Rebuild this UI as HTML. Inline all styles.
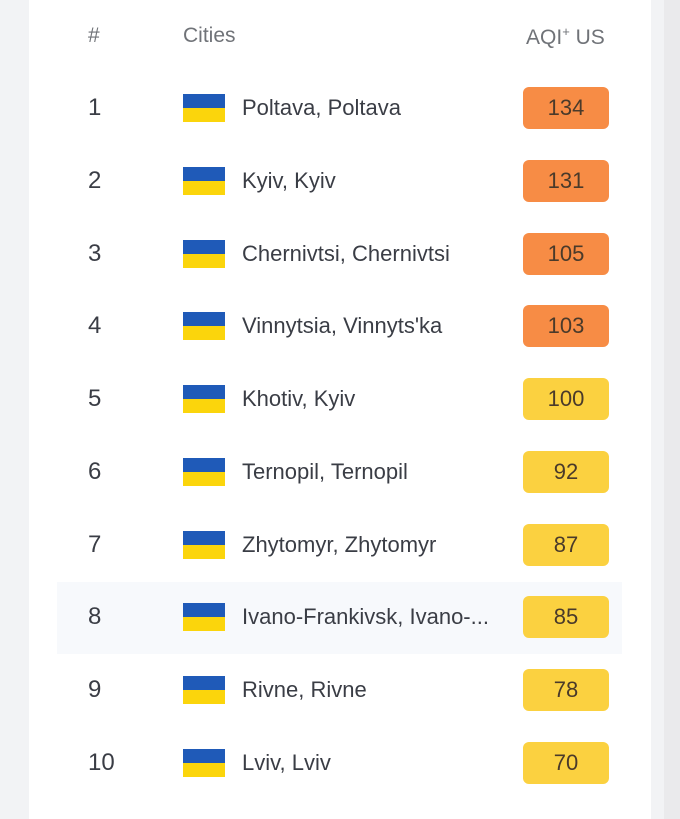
<!DOCTYPE html>
<html><head><meta charset="utf-8"><style>
body{margin:0;width:680px;height:819px;background:#f2f3f5;font-family:"Liberation Sans",sans-serif;overflow:hidden;position:relative}
.card{position:absolute;left:29px;top:0;width:622px;height:819px;background:#fff}
.strip{position:absolute;left:664px;top:0;width:16px;height:819px;background:#eaeaec}
.h{position:absolute;top:24px;font-size:21px;color:#707378}
.row{position:absolute;left:0;width:680px;height:72px}
.hl{position:absolute;left:57px;width:565px;height:72px;background:#f7f9fc}
.n{position:absolute;left:88px;font-size:24px;color:#3a3d45;top:50%;transform:translateY(-50%)}
.f{position:absolute;left:183px;width:42px;height:28px;top:50%;margin-top:-14px}
.f:before{content:"";position:absolute;left:0;top:0;width:42px;height:14px;background:#1f5ab8}
.f:after{content:"";position:absolute;left:0;top:14px;width:42px;height:14px;background:#fbd50c}
.c{position:absolute;left:242px;font-size:22px;color:#3a3d45;top:50%;transform:translateY(-50%);white-space:nowrap}
.b{position:absolute;left:523px;width:86px;height:42px;top:50%;margin-top:-21px;border-radius:6px;text-align:center;line-height:42px;font-size:22px;color:#4a3a2a}
.o{background:#f78c45}.y{background:#fbd140}
</style></head><body>
<div class="card"></div><div class="strip"></div>
<div class="h" style="left:88px">#</div>
<div class="h" style="left:183px">Cities</div>
<div class="h" style="left:526px">AQI<sup style="font-size:13px">+</sup> US</div>
<div class="hl" style="top:582px"></div>
<div class="row" style="top:72px"><span class="n">1</span><span class="f"></span><span class="c">Poltava, Poltava</span><span class="b o">134</span></div>
<div class="row" style="top:145px"><span class="n">2</span><span class="f"></span><span class="c">Kyiv, Kyiv</span><span class="b o">131</span></div>
<div class="row" style="top:218px"><span class="n">3</span><span class="f"></span><span class="c">Chernivtsi, Chernivtsi</span><span class="b o">105</span></div>
<div class="row" style="top:290px"><span class="n">4</span><span class="f"></span><span class="c">Vinnytsia, Vinnyts'ka</span><span class="b o">103</span></div>
<div class="row" style="top:363px"><span class="n">5</span><span class="f"></span><span class="c">Khotiv, Kyiv</span><span class="b y">100</span></div>
<div class="row" style="top:436px"><span class="n">6</span><span class="f"></span><span class="c">Ternopil, Ternopil</span><span class="b y">92</span></div>
<div class="row" style="top:509px"><span class="n">7</span><span class="f"></span><span class="c">Zhytomyr, Zhytomyr</span><span class="b y">87</span></div>
<div class="row" style="top:581px"><span class="n">8</span><span class="f"></span><span class="c">Ivano-Frankivsk, Ivano-...</span><span class="b y">85</span></div>
<div class="row" style="top:654px"><span class="n">9</span><span class="f"></span><span class="c">Rivne, Rivne</span><span class="b y">78</span></div>
<div class="row" style="top:727px"><span class="n">10</span><span class="f"></span><span class="c">Lviv, Lviv</span><span class="b y">70</span></div>
</body></html>
